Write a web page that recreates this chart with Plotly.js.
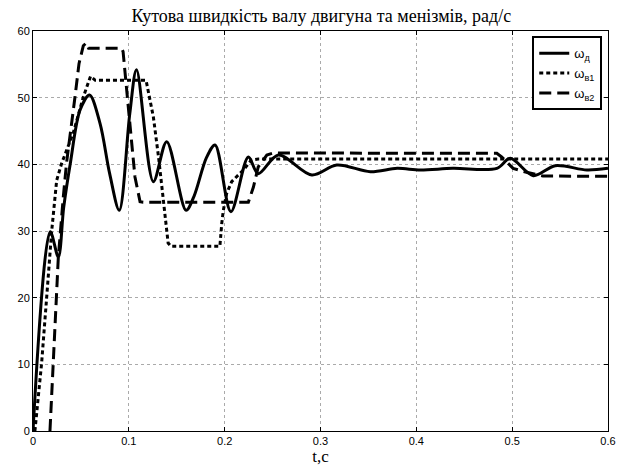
<!DOCTYPE html>
<html>
<head>
<meta charset="utf-8">
<script src="https://cdn.plot.ly/plotly-3.0.1.min.js"></script>
<style>html,body{margin:0;padding:0;background:#fff;}#chart{width:624px;height:466px;}</style>
</head>
<body>
<div id="chart"></div>
<script>
// ω_д (motor)
const tD = [0, 0.018, 0.0264, 0.032, 0.039, 0.049, 0.059, 0.07, 0.080, 0.090, 0.101, 0.108, 0.1256, 0.1395, 0.1597, 0.168, 0.181, 0.190, 0.2065, 0.2247, 0.235, 0.256, 0.291, 0.317, 0.352, 0.380, 0.404, 0.438, 0.484, 0.498, 0.522, 0.545, 0.578, 0.600];
const wD = [0, 29.9, 26.1, 33.5, 40.2, 48.1, 50.4, 46.1, 38.6, 33.1, 47.6, 54.2, 37.4, 43.4, 33.1, 35.2, 41.0, 42.9, 32.9, 41.1, 38.6, 41.4, 38.4, 39.9, 38.9, 39.4, 39.15, 39.4, 39.4, 40.9, 38.3, 39.8, 39.15, 39.4];
// ω_в1
const tB1 = [0.002, 0.009, 0.0143, 0.0195, 0.0247, 0.030, 0.042, 0.0525, 0.060, 0.065, 0.118, 0.1256, 0.131, 0.136, 0.141, 0.144, 0.195, 0.197, 0.1986, 0.202, 0.2073, 0.2195, 0.228, 0.235, 0.600];
const wB1 = [0, 10.2, 20.1, 30.0, 37.6, 40.2, 44.7, 50.1, 53.2, 52.6, 52.6, 47.1, 41.1, 34.2, 28.2, 27.7, 27.7, 31.2, 33.1, 35.6, 37.4, 39.15, 40.65, 40.8, 40.8];
// ω_в2
const tB2 = [0.0177, 0.021, 0.024, 0.0264, 0.0316, 0.035, 0.0438, 0.048, 0.0525, 0.0555, 0.058, 0.0925, 0.094, 0.0995, 0.103, 0.1064, 0.1117, 0.115, 0.2247, 0.230, 0.235, 0.244, 0.2508, 0.484, 0.489, 0.501, 0.515, 0.532, 0.600];
const wB2 = [0, 10.2, 20.1, 26.0, 35.1, 40.2, 50.1, 55.1, 57.8, 58.2, 57.4, 57.4, 56.9, 49.2, 43.2, 38.1, 34.4, 34.3, 34.3, 36.6, 39.6, 41.4, 41.7, 41.65, 41.1, 39.4, 38.8, 38.25, 38.2];

const names = ['ω<sub>д</sub>', 'ω<sub>в1</sub>', 'ω<sub>в2</sub>'];
const xTicks = [0, 0.1, 0.2, 0.3, 0.4, 0.5, 0.6];
const xTickText = ['0', '0.1', '0.2', '0.3', '0.4', '0.5', '0.6'];
const yTicks = [0, 10, 20, 30, 40, 50, 60];

const traces = [
  {x: tD, y: wD, name: names[0], mode: 'lines', line: {color: '#000', width: 3, shape: 'spline', smoothing: 0.9}},
  {x: tB1, y: wB1, name: names[1], mode: 'lines', line: {color: '#000', width: 3, dash: '4px,3px'}},
  {x: tB2, y: wB2, name: names[2], mode: 'lines', line: {color: '#000', width: 3, dash: '12px,6px'}}
];

const axisCommon = {
  showline: true, linecolor: '#000', linewidth: 1, mirror: 'ticks',
  ticks: 'inside', ticklen: 4, tickcolor: '#000',
  showgrid: true, gridcolor: '#aaa', gridwidth: 1, griddash: 'dot',
  zeroline: false,
  tickfont: {family: 'Liberation Sans, Arial, sans-serif', size: 11, color: '#000'}
};

const layout = {
  width: 624, height: 466,
  margin: {l: 33, r: 16, t: 31, b: 35},
  paper_bgcolor: '#fff', plot_bgcolor: '#fff',
  title: {text: 'Кутова швидкість валу двигуна та менізмів, рад/с', font: {family: 'Liberation Serif, Times New Roman, serif', size: 18, color: '#000'}, x: 0.515, xanchor: 'center', y: 0.966, yanchor: 'middle'},
  xaxis: Object.assign({}, axisCommon, {range: [0, 0.6], tickvals: xTicks, ticktext: xTickText,
    title: {text: 't,c', font: {family: 'Liberation Serif, Times New Roman, serif', size: 17, color: '#000'}, standoff: 0}}),
  yaxis: Object.assign({}, axisCommon, {range: [0, 60], tickvals: yTicks}),
  showlegend: true,
  legend: {x: 0.990, xanchor: 'right', y: 0.987, yanchor: 'top', bgcolor: '#fff', bordercolor: '#000', borderwidth: 2,
    font: {family: 'Liberation Sans, Arial, sans-serif', size: 13, color: '#000'}, tracegroupgap: 4}
};

Plotly.newPlot('chart', traces, layout, {staticPlot: true, displayModeBar: false});
</script>
</body>
</html>
